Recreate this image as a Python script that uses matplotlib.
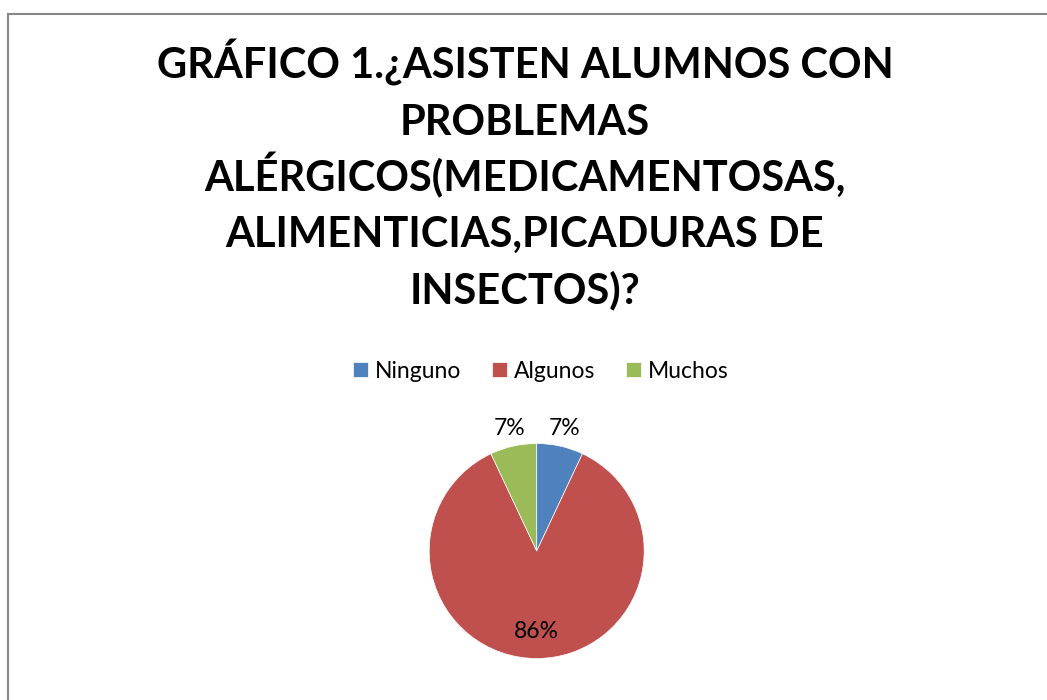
import matplotlib.pyplot as plt
from matplotlib.patches import Rectangle
import numpy as np

# Datos
categorias = ['Ninguno', 'Algunos', 'Muchos']
porcentajes = [7, 86, 7]
colores = ['#4F81BD', '#C0504D', '#9BBB59']

titulo = ['GRÁFICO 1.¿ASISTEN ALUMNOS CON',
          'PROBLEMAS',
          'ALÉRGICOS(MEDICAMENTOSAS,',
          'ALIMENTICIAS,PICADURAS DE',
          'INSECTOS)?']

plt.rcParams['font.family'] = ['Lato', 'DejaVu Sans']

W, H = 1047, 700
fig = plt.figure(figsize=(W / 100, H / 100), dpi=100)

# Marco del gráfico
fig.patches.append(Rectangle((8 / W, -0.1), 1.2, (H - 14) / H + 0.1,
                             transform=fig.transFigure, fill=False,
                             edgecolor='#868686', linewidth=1.5))

# Titulo
for i, linea in enumerate(titulo):
    fig.text(525 / W, 1 - (79 + 56 * i) / H, linea, ha='center', va='baseline',
             fontsize=30, fontweight='bold', color='black')

# Pastel
cx, cy, r = 536.7, 551, 107.5
ax = fig.add_axes([(cx - r) / W, (H - cy - r) / H, 2 * r / W, 2 * r / H])
wedges, _ = ax.pie(porcentajes, colors=colores, startangle=90, counterclock=False,
                   radius=1, wedgeprops=dict(edgecolor='white', linewidth=0.5))
ax.set_xlim(-1, 1)
ax.set_ylim(-1, 1)
ax.axis('off')

for w, p in zip(wedges, porcentajes):
    ang = np.deg2rad((w.theta1 + w.theta2) / 2)
    d = 0.75 if p > 50 else 1.17
    ax.text(d * np.cos(ang), d * np.sin(ang), f'{p}%', ha='center', va='center',
            fontsize=16.5, clip_on=False)

# Leyenda
fig.legend(wedges, categorias, loc='center', bbox_to_anchor=(541 / W, 1 - 371 / H),
           ncol=3, frameon=False, fontsize=16.5, handlelength=0.65, handleheight=0.65,
           handletextpad=0.3, columnspacing=1.35)

plt.savefig('out.png', dpi=100)
